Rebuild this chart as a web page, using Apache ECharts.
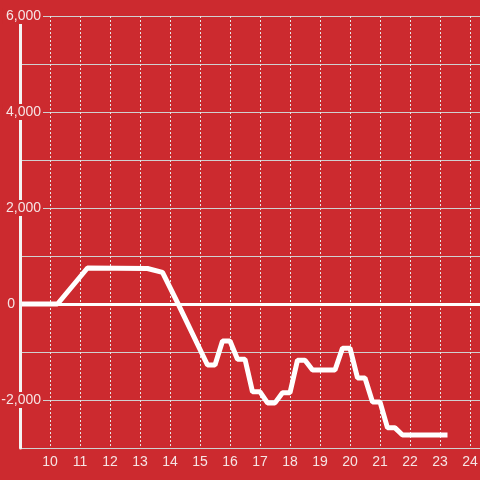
<!DOCTYPE html>
<html>
<head>
<meta charset="utf-8">
<script src="https://cdn.jsdelivr.net/npm/echarts@6/dist/echarts.min.js"></script>
<style>
  html, body { margin: 0; padding: 0; background: #cc2a2f; }
  #chart { width: 480px; height: 480px; }
</style>
</head>
<body>
<div id="chart"></div>
<script>
  // hour of day (x) and running value (y), corner points
  var hours = [9, 10.25, 11.25, 13.25, 13.75, 14.25, 15.25, 15.5, 15.75, 16, 16.25, 16.5,
    16.75, 17, 17.25, 17.5, 17.75, 18, 18.25, 18.5, 18.75, 19.5, 19.75, 20,
    20.25, 20.5, 20.75, 21, 21.25, 21.5, 21.75, 23.25];
  var values = [0, 0, 750, 740, 660, 30, -1270, -1270, -770, -770, -1150, -1150,
    -1830, -1830, -2060, -2060, -1850, -1850, -1170, -1170, -1375, -1375, -920, -920,
    -1540, -1540, -2040, -2040, -2580, -2580, -2730, -2730];

  var bg = '#cc2a2f'
  var labelColor = '#f6e4e4'
  var font = 'Liberation Sans, Arial, sans-serif'

  var points = []
  for (var i = 0; i < hours.length; i++) {
    points.push([hours[i], values[i]])
  }

  var chart = echarts.init(document.getElementById('chart'))
  var option = {
    backgroundColor: bg,
    animation: false,
    grid: { left: 20, right: 0, top: 16, bottom: 32, containLabel: false, outerBoundsMode: 'none' },
    xAxis: {
      type: 'value',
      min: 9,
      max: 24.3333,
      interval: 1,
      axisLine: { show: true, lineStyle: { color: '#d4d4d4', width: 1 } },
      axisTick: { show: false },
      axisLabel: {
        color: labelColor,
        fontSize: 14,
        fontFamily: font,
        margin: 7,
        showMinLabel: true,
        showMaxLabel: true,
        hideOverlap: false,
        formatter: function (v) {
          if (v === 9 || Math.abs(v - Math.round(v)) > 0.01) return ''
          return String(Math.round(v))
        }
      },
      splitLine: { show: true, lineStyle: { color: '#e6e6e6', width: 1, type: [2, 2] } }
    },
    yAxis: [{
      type: 'value',
      min: -3000,
      max: 6000,
      interval: 1000,
      z: 5,
      axisLine: { show: true, lineStyle: { color: '#f4f4f4', width: 3 } },
      axisTick: { show: false },
      splitLine: { show: false },
      axisLabel: {
        margin: -23,
        color: labelColor,
        fontSize: 14,
        fontFamily: font,
        formatter: function (v) {
          if (v === 0) return '{z|0}'
          if (v % 2000 !== 0) return ''
          return '{n|' + v.toLocaleString('en-US') + '}'
        },
        rich: {
          n: { color: labelColor, fontSize: 14, fontFamily: font, backgroundColor: bg, padding: [1, 2, 1, 3] },
          z: { color: labelColor, fontSize: 14, fontFamily: font, padding: [0, 28, 0, 0] }
        }
      }
    }, {
      type: 'value',
      position: 'right',
      min: -3000,
      max: 6000,
      interval: 1000,
      z: 0,
      axisLine: { show: false },
      axisTick: { show: false },
      axisLabel: { show: false },
      splitLine: { show: true, lineStyle: { color: '#d0d0d0', width: 1 } }
    }],
    series: [{
      type: 'line',
      data: points,
      showSymbol: false,
      lineStyle: { color: '#ffffff', width: 5 },
      markLine: {
        silent: true,
        symbol: 'none',
        label: { show: false },
        lineStyle: { color: '#ffffff', width: 3, type: 'solid' },
        data: [{ yAxis: 0 }]
      }
    }]
  }
  chart.setOption(option)
</script>
</body>
</html>
